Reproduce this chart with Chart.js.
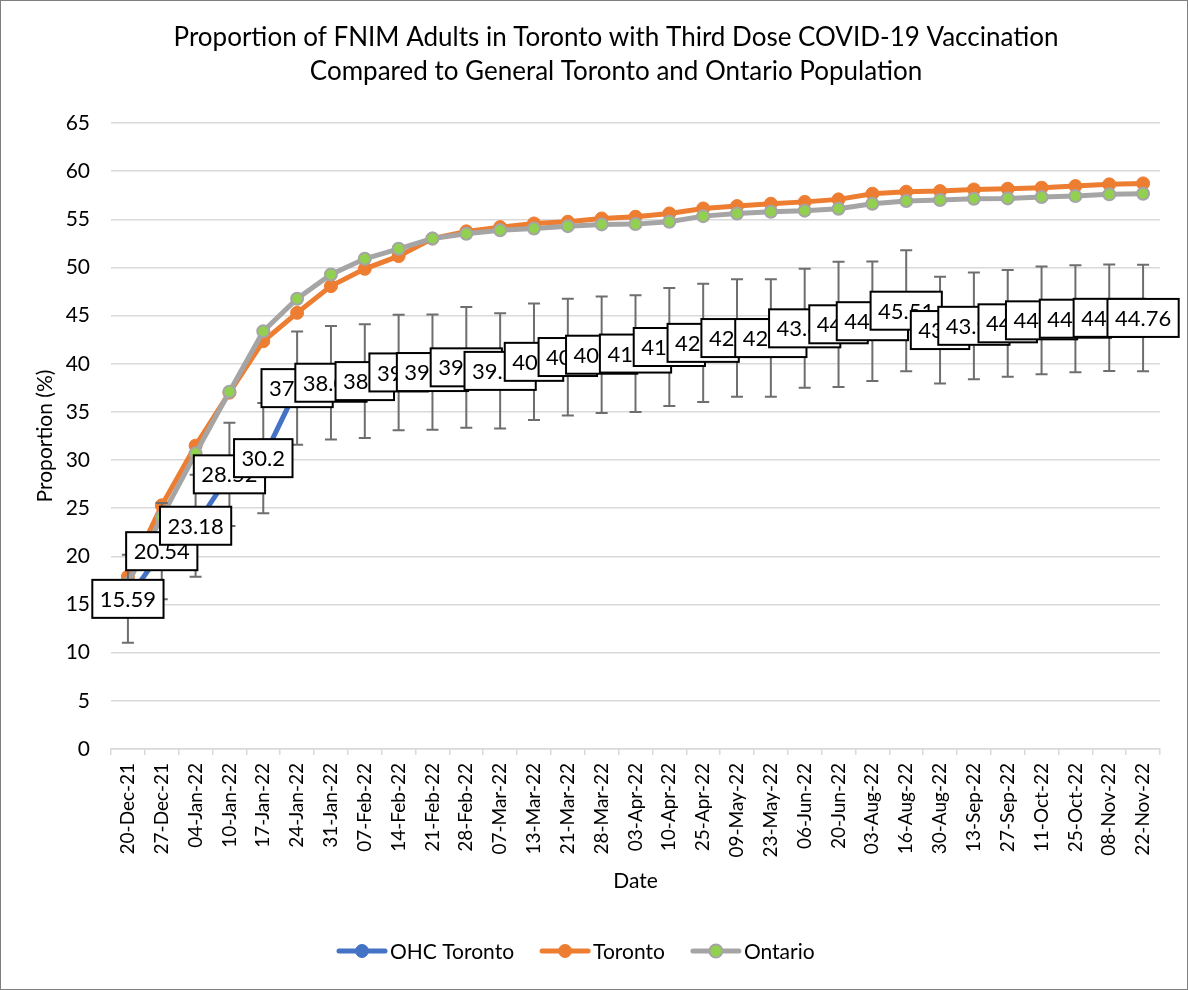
<!DOCTYPE html>
<html>
<head>
<meta charset="utf-8">
<script src="https://cdn.jsdelivr.net/npm/chart.js@4.4.0/dist/chart.umd.min.js"></script>
<style>
  html, body { margin: 0; padding: 0; background: #fff; }
</style>
</head>
<body>
<canvas id="chart" width="1188" height="990"></canvas>
<script>
// DATA
const dates = ['20-Dec-21','27-Dec-21','04-Jan-22','10-Jan-22','17-Jan-22','24-Jan-22','31-Jan-22',
  '07-Feb-22','14-Feb-22','21-Feb-22','28-Feb-22','07-Mar-22','13-Mar-22','21-Mar-22','28-Mar-22',
  '03-Apr-22','10-Apr-22','25-Apr-22','09-May-22','23-May-22','06-Jun-22','20-Jun-22','03-Aug-22',
  '16-Aug-22','30-Aug-22','13-Sep-22','27-Sep-22','11-Oct-22','25-Oct-22','08-Nov-22','22-Nov-22'];
const ohcToronto = [15.59, 20.54, 23.18, 28.52, 30.2, 37.47, 38.03, 38.2, 39.1, 39.14, 39.63, 39.26,
  40.2, 40.7, 40.94, 41.06, 41.74, 42.17, 42.67, 42.67, 43.68, 44.1, 44.42, 45.51, 43.5, 43.94,
  44.2, 44.51, 44.68, 44.77, 44.76];
const ohcError = [4.57, 5.0, 5.3, 5.36, 5.72, 5.87, 5.9, 5.9, 6.0, 5.98, 6.27, 5.98, 6.05, 6.06,
  6.05, 6.06, 6.13, 6.13, 6.1, 6.1, 6.18, 6.5, 6.2, 6.29, 5.54, 5.54, 5.54, 5.59, 5.56, 5.53, 5.53];
const toronto = [17.9, 25.3, 31.5, 37.0, 42.34, 45.29, 48.06, 49.86, 51.18, 53.0, 53.75, 54.19,
  54.57, 54.75, 55.09, 55.27, 55.61, 56.13, 56.37, 56.62, 56.81, 57.07, 57.66, 57.87, 57.93, 58.1,
  58.18, 58.28, 58.45, 58.63, 58.73];
const ontario = [17.2, 24.1, 30.7, 37.1, 43.38, 46.75, 49.27, 50.9, 51.94, 53.0, 53.5, 53.87,
  54.05, 54.29, 54.47, 54.5, 54.75, 55.33, 55.61, 55.79, 55.9, 56.1, 56.62, 56.9, 57.0, 57.14,
  57.17, 57.31, 57.41, 57.59, 57.66];
const titleLines = ['Proportion of FNIM Adults in Toronto with Third Dose COVID-19 Vaccination',
  'Compared to General Toronto and Ontario Population'];

const FONT = 'Lato, "Liberation Sans", sans-serif';

// error bars, data labels, title, legend, frame
const extras = {
  id: 'extras',
  afterDatasetsDraw(chart) {
    const ctx = chart.ctx, y = chart.scales.y;
    const pts = chart.getDatasetMeta(0).data;
    ctx.save();
    ctx.strokeStyle = '#6e6e6e';
    ctx.lineWidth = 2;
    pts.forEach((p, i) => {
      const top = y.getPixelForValue(ohcToronto[i] + ohcError[i]);
      const bot = y.getPixelForValue(ohcToronto[i] - ohcError[i]);
      ctx.beginPath();
      ctx.moveTo(p.x, top); ctx.lineTo(p.x, bot);
      ctx.moveTo(p.x - 6, top); ctx.lineTo(p.x + 6, top);
      ctx.moveTo(p.x - 6, bot); ctx.lineTo(p.x + 6, bot);
      ctx.stroke();
    });
    ctx.font = '22px ' + FONT;
    ctx.textAlign = 'center';
    ctx.textBaseline = 'middle';
    pts.forEach((p, i) => {
      const txt = String(ohcToronto[i]);
      const w = ctx.measureText(txt).width + 15, h = 38;
      ctx.fillStyle = '#fff';
      ctx.fillRect(p.x - w / 2, p.y - h / 2, w, h);
      ctx.strokeStyle = '#000';
      ctx.lineWidth = 2;
      ctx.strokeRect(p.x - w / 2, p.y - h / 2, w, h);
      ctx.fillStyle = '#000';
      ctx.fillText(txt, p.x, p.y + 1);
    });
    ctx.restore();
  },
  afterDraw(chart) {
    const ctx = chart.ctx;
    ctx.save();
    // title
    ctx.fillStyle = '#000';
    ctx.font = '26px ' + FONT;
    ctx.textAlign = 'center';
    ctx.textBaseline = 'middle';
    ctx.fillText(titleLines[0], 616, 38);
    ctx.fillText(titleLines[1], 616, 72);
    // legend
    ctx.font = '21px ' + FONT;
    ctx.textAlign = 'left';
    let x = 337;
    const ly = 951;
    chart.data.datasets.forEach(ds => {
      ctx.strokeStyle = ds.borderColor;
      ctx.lineWidth = 5;
      ctx.lineCap = 'round';
      ctx.beginPath();
      ctx.moveTo(x + 2, ly); ctx.lineTo(x + 48, ly);
      ctx.stroke();
      ctx.beginPath();
      ctx.arc(x + 25, ly, 6.5, 0, Math.PI * 2);
      ctx.fillStyle = ds.pointBackgroundColor;
      ctx.fill();
      ctx.lineWidth = ds.pointBorderWidth;
      ctx.strokeStyle = ds.pointBorderColor;
      ctx.stroke();
      ctx.fillStyle = '#000';
      ctx.fillText(ds.label, x + 53, ly + 1);
      x += 53 + ctx.measureText(ds.label).width + 26;
    });
    // outer frame
    ctx.strokeStyle = '#7f7f7f';
    ctx.lineWidth = 1;
    ctx.strokeRect(0.5, 0.5, 1187, 989);
    ctx.restore();
  }
};

new Chart(document.getElementById('chart'), {
  type: 'line',
  data: {
    labels: dates,
    datasets: [
      { label: 'OHC Toronto', data: ohcToronto, borderColor: '#4472C4', borderWidth: 5,
        pointRadius: 6, pointBackgroundColor: '#4472C4', pointBorderColor: '#4472C4',
        pointBorderWidth: 1, order: 3 },
      { label: 'Toronto', data: toronto, borderColor: '#ED7D31', borderWidth: 5,
        pointRadius: 6.5, pointBackgroundColor: '#ED7D31', pointBorderColor: '#ED7D31',
        pointBorderWidth: 1, order: 2 },
      { label: 'Ontario', data: ontario, borderColor: '#A5A5A5', borderWidth: 5,
        pointRadius: 6, pointBackgroundColor: '#92D050', pointBorderColor: '#A5A5A5',
        pointBorderWidth: 2, order: 1 }
    ]
  },
  options: {
    responsive: false,
    animation: false,
    layout: { padding: { top: 123, left: 20, right: 28, bottom: 96 } },
    plugins: {
      legend: { display: false },
      title: { display: false },
      tooltip: { enabled: false }
    },
    scales: {
      x: {
        offset: true,
        afterFit: s => { s.height = 145; },
        grid: { display: true, offset: true, drawOnChartArea: false, drawTicks: true, tickLength: 6, color: '#d9d9d9', lineWidth: 1.5 },
        border: { display: true, color: '#d9d9d9', width: 1.5 },
        ticks: { autoSkip: false, maxRotation: 90, minRotation: 90, padding: 8, color: '#000',
          font: { family: FONT, size: 19 } },
        title: { display: true, text: 'Date', color: '#000', padding: { top: 0, bottom: 0 },
          font: { family: FONT, size: 21 } }
      },
      y: {
        min: 0, max: 65,
        afterFit: s => { s.width = 91; },
        grid: { color: '#d9d9d9', lineWidth: 1.5, drawTicks: false },
        border: { display: false },
        ticks: { stepSize: 5, padding: 21, color: '#000', font: { family: FONT, size: 21 } },
        title: { display: true, text: 'Proportion (%)', color: '#000', padding: { top: 13, bottom: 0 },
          font: { family: FONT, size: 21 } }
      }
    }
  },
  plugins: [extras]
});
</script>
</body>
</html>
